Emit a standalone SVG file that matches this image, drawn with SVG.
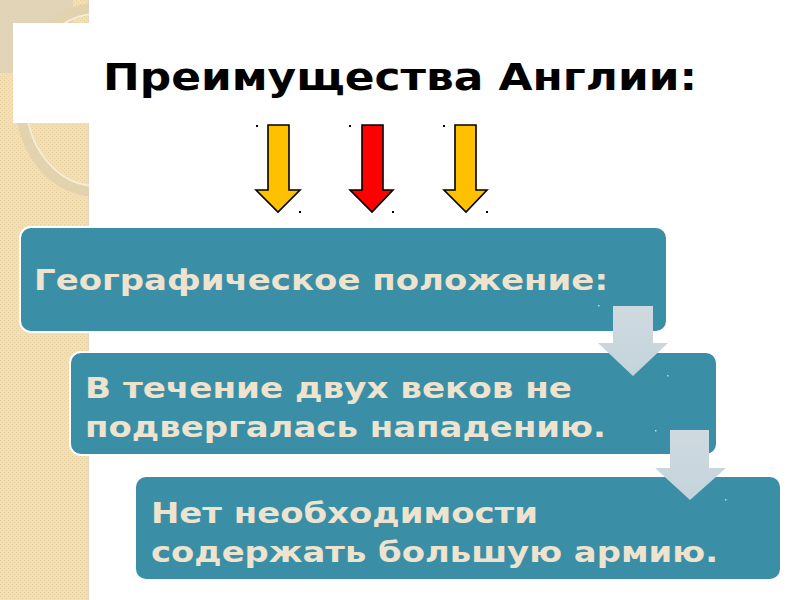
<svg xmlns="http://www.w3.org/2000/svg" width="800" height="600" viewBox="0 0 800 600">
<defs>
<pattern id="dots" width="4" height="4" patternUnits="userSpaceOnUse">
<rect width="4" height="4" fill="#F3DFB4"/>
<rect x="0" y="0" width="1" height="1" fill="#E6CE9E"/>
<rect x="2" y="2" width="1" height="1" fill="#E6CE9E"/>
</pattern>
<linearGradient id="ltArrow" x1="0" y1="0" x2="0" y2="1">
<stop offset="0" stop-color="#CFDAE0"/>
<stop offset="1" stop-color="#C4D3DB"/>
</linearGradient>
</defs>
<style>
.box{fill:#3A8FA6;stroke:#FFFFFF;stroke-width:2}
.bt{font-family:"DejaVu Sans",Verdana,sans-serif;font-weight:bold;font-size:29px;fill:#EDE3CF}
.title{font-family:"DejaVu Sans",Verdana,sans-serif;font-weight:bold;font-size:37px;fill:#000000}
.ya{fill:#FFC000;stroke:#000000;stroke-width:1.6;stroke-linejoin:miter}
.ra{fill:#FF0000;stroke:#000000;stroke-width:1.6;stroke-linejoin:miter}
.la{fill:url(#ltArrow)}
.h{fill:#000000}
.c{fill:#9EE8F5}
</style>
<rect width="800" height="600" fill="#FFFFFF"/>
<g id="background">
<rect x="0" y="0" width="88" height="600" fill="url(#dots)"/>
<rect x="0" y="0" width="73" height="73" fill="#DCD1B8" opacity="0.8"/>
<line x1="88.5" y1="0" x2="88.5" y2="600" stroke="#E3D7BF" stroke-width="1.5"/>
<ellipse cx="96" cy="100" rx="76" ry="92" fill="none" stroke="#E2D3AE" stroke-width="10"/>
<ellipse cx="96" cy="100" rx="70" ry="86" fill="none" stroke="#F6EEDD" stroke-width="1.5"/>
<rect x="13" y="23" width="80" height="100" fill="#FFFFFF"/>
<rect x="89" y="0" width="711" height="600" fill="#FFFFFF"/>
</g>
<g id="title">
<text class="title" x="103" y="90" textLength="594" lengthAdjust="spacingAndGlyphs">Преимущества Англии:</text>
</g>
<g id="connectors">
<polygon class="ya" points="268,125 289,125 289,190 300,190 278,212 256,190 268,190"/>
<polygon class="ra" points="362,125 383,125 383,190 393,190 372,212 350,190 362,190"/>
<polygon class="ya" points="455,125 476,125 476,190 487,190 466,212 444,190 455,190"/>
<rect class="h" x="256" y="125" width="2" height="2"/>
<rect class="h" x="349" y="125" width="2" height="2"/>
<rect class="h" x="443" y="125" width="2" height="2"/>
<rect class="h" x="299" y="211" width="2" height="2"/>
<rect class="h" x="392" y="211" width="2" height="2"/>
<rect class="h" x="486" y="211" width="2" height="2"/>
</g>
<g id="node1">
<rect class="box" x="20" y="227" width="647" height="105" rx="11"/>
<text class="bt" x="34" y="290" textLength="574" lengthAdjust="spacingAndGlyphs">Географическое положение:</text>
</g>
<g id="node2">
<rect class="box" x="70" y="352" width="647" height="103" rx="11"/>
<text class="bt" x="85" y="398" textLength="487" lengthAdjust="spacingAndGlyphs">В течение двух веков не</text>
<text class="bt" x="85" y="437" textLength="521" lengthAdjust="spacingAndGlyphs">подвергалась нападению.</text>
</g>
<g id="node3">
<rect class="box" x="135" y="476" width="646" height="104" rx="11"/>
<text class="bt" x="151" y="523" textLength="387" lengthAdjust="spacingAndGlyphs">Нет необходимости</text>
<text class="bt" x="151" y="562" textLength="567" lengthAdjust="spacingAndGlyphs">содержать большую армию.</text>
</g>
<g id="flow-arrows">
<polygon class="la" points="613,306 653,306 653,343 668,343 633,376 598,343 613,343"/>
<polygon class="la" points="670,430 709,430 709,468 726,468 690,500 655,468 670,468"/>
<rect class="c" x="598" y="305" width="1.5" height="1.5"/>
<rect class="c" x="667" y="375" width="1.5" height="1.5"/>
<rect class="c" x="655" y="430" width="1.5" height="1.5"/>
<rect class="c" x="725" y="499" width="1.5" height="1.5"/>
</g>
</svg>
